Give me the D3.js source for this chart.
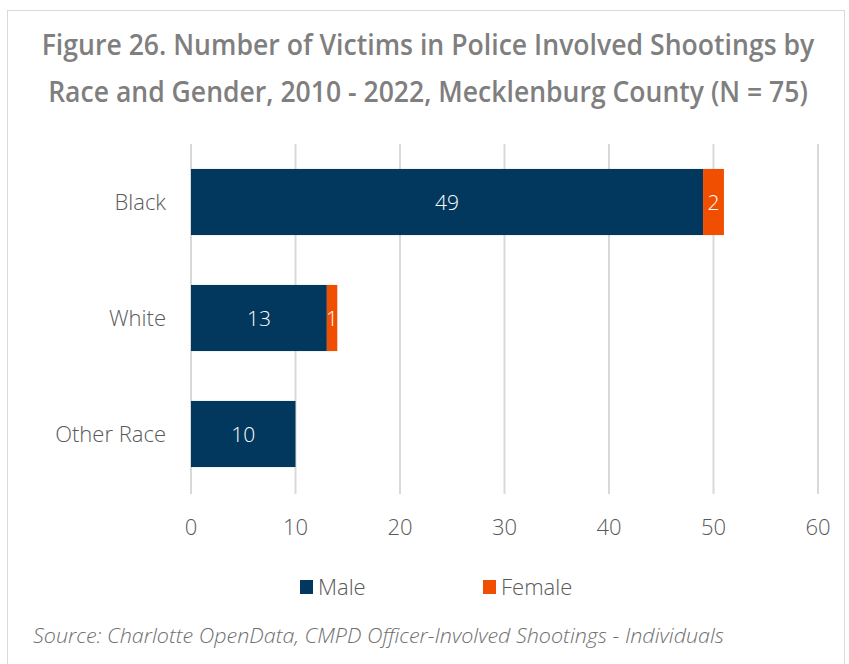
<!DOCTYPE html>
<html>
<head>
<meta charset="utf-8">
<script src="https://cdn.jsdelivr.net/npm/d3@7"></script>
<style>
  body { margin: 0; background: #fff; }
  svg { display: block; }
</style>
</head>
<body>
<div id="chart"></div>
<script>
var races = ["Black", "White", "Other Race"];
var male = [49, 13, 10];
var female = [2, 1, 0];
var xTicks = [0, 10, 20, 30, 40, 50, 60];
var titleLines = [
  "Figure 26. Number of Victims in Police Involved Shootings by",
  "Race and Gender, 2010 - 2022, Mecklenburg County (N = 75)"
];
var sourceText = "Source: Charlotte OpenData, CMPD Officer-Involved Shootings - Individuals";

var W = 849, H = 664;
var navy = "#02385d", orange = "#f04e00", textCol = "#595959";
var bodyFont = "'Open Sans', sans-serif";

var svg = d3.select("#chart").append("svg")
    .attr("width", W)
    .attr("height", H);

svg.append("rect")
    .attr("x", 7.5).attr("y", 10.5)
    .attr("width", W - 12).attr("height", H)
    .attr("fill", "#fff")
    .attr("stroke", "#d9d9d9");

// title: original is a condensed face, so squeeze horizontally to its width
var titleLen = [773, 760];
titleLines.forEach(function(line, i) {
    var g = svg.append("g");
    var t = g.append("text")
        .attr("text-anchor", "middle")
        .attr("font-family", "'Open Sans', sans-serif")
        .attr("font-weight", 600)
        .attr("font-size", "29px")
        .attr("fill", "#7f7f7f")
        .text(line);
    var k = titleLen[i] / t.node().getComputedTextLength();
    g.attr("transform", "translate(428," + (55 + i * 47) + ") scale(" + k + ",1)");
});

var x = d3.scaleLinear().domain([0, 60]).range([191, 818]);
var y = d3.scaleBand().domain(races).range([144, 492]).paddingInner(0.43).paddingOuter(0.215);

// gridlines
svg.selectAll(".grid")
    .data(xTicks)
    .enter()
    .append("line")
    .attr("x1", function(d) { return x(d); })
    .attr("x2", function(d) { return x(d); })
    .attr("y1", 144)
    .attr("y2", 494)
    .attr("stroke", "#d9d9d9")
    .attr("stroke-width", 2);

// male bars
svg.selectAll(".male")
    .data(races)
    .enter()
    .append("rect")
    .attr("x", x(0))
    .attr("y", function(d) { return y(d); })
    .attr("width", function(d, i) { return x(male[i]) - x(0); })
    .attr("height", y.bandwidth())
    .attr("fill", navy);

// female bars
svg.selectAll(".female")
    .data(races)
    .enter()
    .append("rect")
    .attr("x", function(d, i) { return x(male[i]); })
    .attr("y", function(d) { return y(d); })
    .attr("width", function(d, i) { return x(male[i] + female[i]) - x(male[i]); })
    .attr("height", y.bandwidth())
    .attr("fill", orange);

// value labels
svg.selectAll(".mlab")
    .data(races)
    .enter()
    .append("text")
    .attr("x", function(d, i) { return (x(0) + x(male[i])) / 2; })
    .attr("y", function(d) { return y(d) + y.bandwidth() / 2 + 8; })
    .attr("text-anchor", "middle")
    .attr("font-family", bodyFont)
    .attr("font-weight", 300)
    .attr("font-size", "21px")
    .attr("fill", "#fff")
    .text(function(d, i) { return male[i]; });

svg.selectAll(".flab")
    .data(races.filter(function(d, i) { return female[i] > 0; }))
    .enter()
    .append("text")
    .attr("x", function(d) { var i = races.indexOf(d); return x(male[i] + female[i] / 2); })
    .attr("y", function(d) { return y(d) + y.bandwidth() / 2 + 8; })
    .attr("text-anchor", "middle")
    .attr("font-family", bodyFont)
    .attr("font-weight", 300)
    .attr("font-size", "21px")
    .attr("fill", "#fff")
    .text(function(d) { return female[races.indexOf(d)]; });

// category labels
svg.selectAll(".cat")
    .data(races)
    .enter()
    .append("text")
    .attr("x", 166)
    .attr("y", function(d) { return y(d) + y.bandwidth() / 2 + 8; })
    .attr("text-anchor", "end")
    .attr("font-family", bodyFont)
    .attr("font-weight", 300)
    .attr("font-size", "22px")
    .attr("fill", textCol)
    .text(function(d) { return d; });

// x axis tick labels
svg.selectAll(".xt")
    .data(xTicks)
    .enter()
    .append("text")
    .attr("x", function(d) { return x(d); })
    .attr("y", 535)
    .attr("text-anchor", "middle")
    .attr("font-family", bodyFont)
    .attr("font-weight", 300)
    .attr("font-size", "22px")
    .attr("fill", textCol)
    .text(function(d) { return d; });

// legend
var legend = [{name: "Male", color: navy, x: 300}, {name: "Female", color: orange, x: 483}];
var lg = svg.selectAll(".lg")
    .data(legend)
    .enter()
    .append("g")
    .attr("transform", function(d) { return "translate(" + d.x + ",580)"; });
lg.append("rect")
    .attr("width", 13).attr("height", 14)
    .attr("fill", function(d) { return d.color; });
lg.append("text")
    .attr("x", 18)
    .attr("y", 15)
    .attr("font-family", bodyFont)
    .attr("font-weight", 300)
    .attr("font-size", "22px")
    .attr("fill", textCol)
    .text(function(d) { return d.name; });

// source
svg.append("text")
    .attr("x", 33)
    .attr("y", 643)
    .attr("textLength", 691)
    .attr("lengthAdjust", "spacingAndGlyphs")
    .attr("font-family", bodyFont)
    .attr("font-weight", 300)
    .attr("font-style", "italic")
    .attr("font-size", "20px")
    .attr("fill", "#6f6f6f")
    .text(sourceText);
</script>
</body>
</html>
